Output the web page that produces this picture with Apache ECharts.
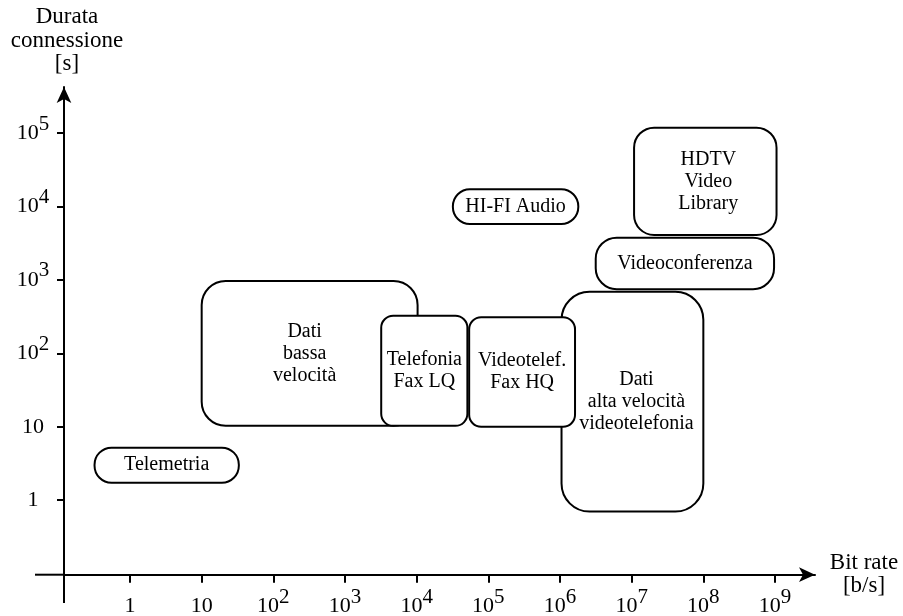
<!DOCTYPE html>
<html>
<head>
<meta charset="utf-8">
<script src="https://cdn.jsdelivr.net/npm/echarts@6/dist/echarts.min.js"></script>
<style>
html,body{margin:0;padding:0;background:#fff;}
#chart{width:903px;height:616px;}
</style>
</head>
<body>
<div id="chart"></div>
<script>
// ---- data ----
const categories = ['Telemetria', 'Dati\nbassa\nvelocità', 'Telefonia\nFax LQ', 'Dati\nalta velocità\nvideotelefonia',
  'Videotelef.\nFax HQ', 'HI-FI Audio', 'Videoconferenza', 'HDTV\nVideo\nLibrary'];
const bitRateMin = [0.32, 10, 3.2e3, 1.05e6, 5.4e4, 3.2e4, 3.15e6, 1.08e7];      // b/s
const bitRateMax = [33, 1.03e4, 5.1e4, 1.0e8, 1.62e6, 1.8e6, 9.7e8, 1.05e9];     // b/s
const durationMin = [1.73, 10.3, 10.3, 0.70, 10, 5800, 750, 4100];              // s
const durationMax = [5.2, 970, 326, 690, 310, 17200, 3770, 1.19e5];             // s
const xTickValues = [1, 10, 1e2, 1e3, 1e4, 1e5, 1e6, 1e7, 1e8, 1e9];
const xTickLabels = ['1', '10', '10^2', '10^3', '10^4', '10^5', '10^6', '10^7', '10^8', '10^9'];
const yTickValues = [1, 10, 1e2, 1e3, 1e4, 1e5];
const yTickLabels = ['1', '10', '10^2', '10^3', '10^4', '10^5'];

// ---- styles ----
const boxRadius = [17, 24, 12, 28, 12, 17, 21, 20];
const labelDx = [0, -5, 0, 4, 0, 0, 0, 3];
const FONT = '"Liberation Serif", "Times New Roman", serif';
const X_MIN = -0.921, X_MAX = 9.558;   // axis range in decades
const Y_MIN = -1.015, Y_MAX = 5.629;

const lg = Math.log10;
const seriesData = categories.map((c, i) => [lg(bitRateMin[i]), lg(bitRateMax[i]), lg(durationMin[i]), lg(durationMax[i])]);

function toRich(s) {
  const parts = s.split('^');
  return parts.length > 1 ? '{b|' + parts[0] + '}{s|' + parts[1] + '}' : '{b|' + s + '}';
}
const rich = {
  b: {fontFamily: FONT, fontSize: 22, lineHeight: 40, color: '#000'},
  s: {fontFamily: FONT, fontSize: 21, lineHeight: 21, padding: [0, 0, 18, 0], color: '#000'}
};

const chart = echarts.init(document.getElementById('chart'), null, {renderer: 'canvas'});
const axisLineStyle = {color: '#000', width: 2};
const option = {
  animation: false,
  backgroundColor: '#fff',
  textStyle: {fontFamily: FONT},
  grid: {left: 64, right: 88, top: 87, bottom: 41.3, containLabel: false, outerBoundsMode: 'none'},
  xAxis: {
    type: 'value', min: X_MIN, max: X_MAX,
    splitLine: {show: false},
    axisLine: {show: true, onZero: false, symbol: ['none', 'arrow'], symbolSize: [11, 16], lineStyle: axisLineStyle},
    axisTick: {show: true, customValues: xTickValues.map(lg), length: 8, lineStyle: axisLineStyle},
    axisLabel: {
      customValues: xTickValues.map(lg), margin: 12, rich: rich,
      formatter: v => toRich(xTickLabels[Math.round(v)])
    },
    name: 'Bit rate\n[b/s]', nameLocation: 'end', nameGap: 49,
    nameTextStyle: {fontFamily: FONT, fontSize: 23, lineHeight: 23, color: '#000', align: 'center', verticalAlign: 'middle'}
  },
  yAxis: {
    type: 'value', min: Y_MIN, max: Y_MAX,
    splitLine: {show: false},
    axisLine: {show: true, onZero: false, symbol: ['none', 'arrow'], symbolSize: [11, 16], lineStyle: axisLineStyle},
    axisTick: {show: true, customValues: yTickValues.map(lg), length: 7, lineStyle: axisLineStyle},
    axisLabel: {
      customValues: yTickValues.map(lg), margin: 31, align: 'center', rich: rich,
      formatter: v => toRich(yTickLabels[Math.round(v)])
    },
    name: 'Durata\nconnessione\n[s]', nameLocation: 'end', nameGap: 11,
    nameTextStyle: {fontFamily: FONT, fontSize: 23, lineHeight: 23.5, color: '#000', align: 'center', verticalAlign: 'bottom', padding: [0, 0, 0, 6]}
  },
  series: [{
    type: 'custom',
    clip: false,
    data: seriesData,
    encode: {x: [0, 1], y: [2, 3]},
    renderItem: function (params, api) {
      const i = params.dataIndex;
      const p0 = api.coord([api.value(0), api.value(3)]);
      const p1 = api.coord([api.value(1), api.value(2)]);
      return {
        type: 'group',
        children: [{
          type: 'rect',
          shape: {x: p0[0], y: p0[1], width: p1[0] - p0[0], height: p1[1] - p0[1], r: boxRadius[i]},
          style: {fill: '#fff', stroke: '#000', lineWidth: 2}
        }, {
          type: 'text',
          x: (p0[0] + p1[0]) / 2 + labelDx[i],
          y: (p0[1] + p1[1]) / 2,
          style: {text: categories[i], fill: '#000', font: '20px ' + FONT, align: 'center', verticalAlign: 'middle', lineHeight: 22}
        }]
      };
    }
  }]
};
chart.setOption(option);

// axis line extensions beyond the origin
const o = chart.convertToPixel({gridIndex: 0}, [X_MIN, Y_MIN]);
chart.setOption({
  graphic: [
    {type: 'line', shape: {x1: 35, y1: o[1], x2: o[0], y2: o[1]}, style: {stroke: '#000', lineWidth: 2}},
    {type: 'line', shape: {x1: o[0], y1: o[1], x2: o[0], y2: 603}, style: {stroke: '#000', lineWidth: 2}}
  ]
});
</script>
</body>
</html>
